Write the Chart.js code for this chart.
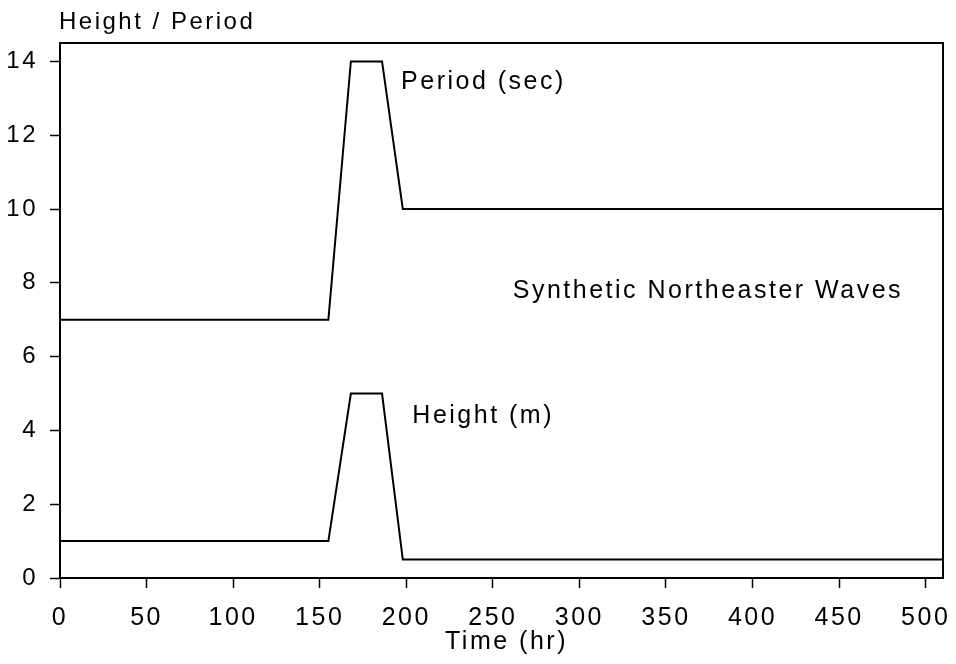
<!DOCTYPE html>
<html>
<head>
<meta charset="utf-8">
<script src="https://cdn.jsdelivr.net/npm/chart.js@4/dist/chart.umd.min.js"></script>
<style>
html,body{margin:0;padding:0;background:#fff;}
#wrap{width:956px;height:664px;}
</style>
</head>
<body>
<div id="wrap"><canvas id="c" width="956" height="664"></canvas></div>
<script>
// Data
const timeHr   = [0, 155, 168, 186, 198, 510];
const periodS  = [7, 7, 14, 14, 10, 10];
const heightM  = [1, 1, 5, 5, 0.5, 0.5];
const xTicks   = [0, 50, 100, 150, 200, 250, 300, 350, 400, 450, 500];
const yTicks   = [0, 2, 4, 6, 8, 10, 12, 14];
const labels   = [
  {text: 'Period (sec)', x: 197, y: 13.26},
  {text: 'Synthetic Northeaster Waves', x: 261.5, y: 7.6},
  {text: 'Height (m)', x: 203.5, y: 4.2}
];

const FONT = '"Liberation Sans", Arial, sans-serif';
const SPACING = '2.5px';

const spacingPlugin = {
  id: 'spacing',
  beforeLayout(chart){ chart.ctx.letterSpacing = SPACING; },
  beforeDraw(chart){ chart.ctx.letterSpacing = SPACING; }
};

const decoPlugin = {
  id: 'deco',
  afterDraw(chart){
    const ctx = chart.ctx, a = chart.chartArea;
    const xs = chart.scales.x, ys = chart.scales.y;
    ctx.save();
    ctx.letterSpacing = SPACING;
    ctx.strokeStyle = '#000';
    ctx.lineWidth = 2;
    ctx.beginPath();
    ctx.moveTo(a.left, a.top);
    ctx.lineTo(a.right, a.top);
    ctx.lineTo(a.right, a.bottom);
    ctx.stroke();
    ctx.fillStyle = '#000';
    ctx.font = '25px ' + FONT;
    ctx.textBaseline = 'alphabetic';
    ctx.textAlign = 'left';
    labels.forEach(l => {
      ctx.fillText(l.text, xs.getPixelForValue(l.x), ys.getPixelForValue(l.y));
    });
    ctx.font = '24px ' + FONT;
    ctx.fillText('Height / Period', a.left - 1, 29);
    ctx.textAlign = 'center';
    ctx.font = '25px ' + FONT;
    ctx.fillText('Time (hr)', (a.left + a.right) / 2 + 5, 649);
    ctx.restore();
  }
};

new Chart(document.getElementById('c'), {
  type: 'line',
  data: {
    datasets: [
      {
        label: 'Period (sec)',
        data: timeHr.map((t, i) => ({x: t, y: periodS[i]})),
        borderColor: '#000', borderWidth: 2, pointRadius: 0, fill: false, tension: 0
      },
      {
        label: 'Height (m)',
        data: timeHr.map((t, i) => ({x: t, y: heightM[i]})),
        borderColor: '#000', borderWidth: 2, pointRadius: 0, fill: false, tension: 0
      }
    ]
  },
  options: {
    responsive: false,
    animation: false,
    devicePixelRatio: 1,
    layout: {padding: {top: 43, right: 13, left: 0, bottom: 0}},
    plugins: {legend: {display: false}, tooltip: {enabled: false}, title: {display: false}},
    scales: {
      x: {
        type: 'linear', min: 0, max: 510,
        afterBuildTicks(s){ s.ticks = xTicks.map(v => ({value: v})); },
        afterFit(s){ s.height = 86; s.paddingLeft = 0; s.paddingRight = 0; },
        grid: {drawOnChartArea: false, drawTicks: true, tickLength: 10, color: '#000', tickWidth: 1.5},
        border: {display: true, color: '#000', width: 2},
        ticks: {color: '#000', font: {family: FONT, size: 25}, padding: 15, maxRotation: 0, autoSkip: false}
      },
      y: {
        type: 'linear', min: 0, max: 14.5,
        afterBuildTicks(s){ s.ticks = yTicks.map(v => ({value: v})); },
        afterFit(s){ s.width = 60; s.paddingTop = 0; s.paddingBottom = 0; },
        grid: {drawOnChartArea: false, drawTicks: true, tickLength: 10, color: '#000', tickWidth: 1.5},
        border: {display: true, color: '#000', width: 2},
        ticks: {color: '#000', font: {family: FONT, size: 24}, padding: 12, autoSkip: false}
      }
    }
  },
  plugins: [spacingPlugin, decoPlugin]
});
</script>
</body>
</html>
